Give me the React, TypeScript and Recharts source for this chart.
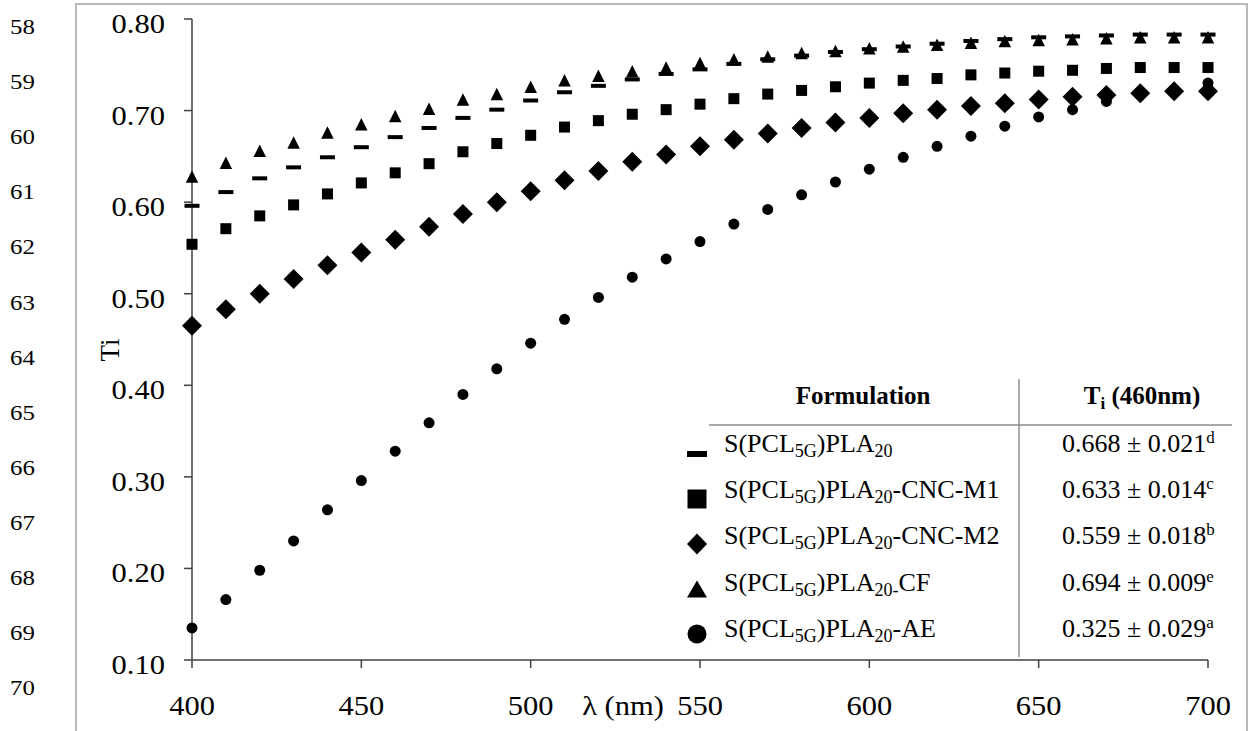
import { Scatter, ScatterChart, XAxis, YAxis } from "recharts";

const wavelengths = [
  400, 410, 420, 430, 440, 450, 460, 470, 480, 490, 500, 510, 520, 530, 540, 550,
  560, 570, 580, 590, 600, 610, 620, 630, 640, 650, 660, 670, 680, 690, 700,
];

// S(PCL5G)PLA20
const tiPla20 = [
  0.596, 0.611, 0.626, 0.638, 0.649, 0.66, 0.671, 0.681, 0.692, 0.701, 0.711, 0.72,
  0.727, 0.734, 0.74, 0.745, 0.751, 0.756, 0.76, 0.764, 0.767, 0.77, 0.773, 0.776,
  0.778, 0.78, 0.781, 0.782, 0.783, 0.783, 0.783,
];
// -CNC-M1
const tiCncM1 = [
  0.554, 0.571, 0.585, 0.597, 0.609, 0.621, 0.632, 0.642, 0.655, 0.664, 0.673, 0.682,
  0.689, 0.696, 0.701, 0.707, 0.713, 0.718, 0.722, 0.726, 0.73, 0.733, 0.735, 0.739,
  0.741, 0.743, 0.744, 0.746, 0.747, 0.747, 0.747,
];
// -CNC-M2
const tiCncM2 = [
  0.465, 0.483, 0.5, 0.516, 0.531, 0.545, 0.559, 0.573, 0.587, 0.6, 0.612, 0.624,
  0.634, 0.644, 0.652, 0.661, 0.668, 0.675, 0.681, 0.687, 0.692, 0.697, 0.701, 0.705,
  0.708, 0.712, 0.715, 0.717, 0.719, 0.721, 0.721,
];
// -CF
const tiCf = [
  0.628, 0.643, 0.656, 0.665, 0.676, 0.685, 0.694, 0.702, 0.712, 0.718, 0.726, 0.733,
  0.738, 0.743, 0.747, 0.752, 0.756, 0.759, 0.763, 0.765, 0.768, 0.77, 0.772, 0.774,
  0.776, 0.777, 0.778, 0.779, 0.78, 0.78, 0.78,
];
// -AE
const tiAe = [
  0.135, 0.166, 0.198, 0.23, 0.264, 0.296, 0.328, 0.359, 0.39, 0.418, 0.446, 0.472,
  0.496, 0.518, 0.538, 0.557, 0.576, 0.592, 0.608, 0.622, 0.636, 0.649, 0.661, 0.672,
  0.683, 0.693, 0.701, 0.71, 0.717, 0.723, 0.73,
];

const xTicks = [400, 450, 500, 550, 600, 650, 700];
const yTicks = [0.1, 0.2, 0.3, 0.4, 0.5, 0.6, 0.7, 0.8];
const lineNumbers = [58, 59, 60, 61, 62, 63, 64, 65, 66, 67, 68, 69, 70];

const tiMeans = ["0.668", "0.633", "0.559", "0.694", "0.325"];
const tiErrors = ["0.021", "0.014", "0.018", "0.009", "0.029"];
const tiGroups = ["d", "c", "b", "e", "a"];

const FONT = '"Liberation Serif", "Times New Roman", serif';
const AXIS = "#404040";

type Kind = "dash" | "square" | "diamond" | "triangle" | "circle";
type Size = { w: number; h: number };

const plotSizes: Record<Kind, Size> = {
  dash: { w: 15, h: 4 },
  square: { w: 11, h: 11 },
  diamond: { w: 20, h: 20 },
  triangle: { w: 12.5, h: 12.5 },
  circle: { w: 11, h: 11 },
};

const legendSizes: Record<Kind, Size> = {
  dash: { w: 20, h: 6 },
  square: { w: 19, h: 19 },
  diamond: { w: 20, h: 21 },
  triangle: { w: 20, h: 17 },
  circle: { w: 19, h: 19 },
};

const series: { kind: Kind; values: number[]; subTail: string; tail: string }[] = [
  { kind: "dash", values: tiPla20, subTail: "20", tail: "" },
  { kind: "square", values: tiCncM1, subTail: "20", tail: "-CNC-M1" },
  { kind: "diamond", values: tiCncM2, subTail: "20", tail: "-CNC-M2" },
  { kind: "triangle", values: tiCf, subTail: "20-", tail: "CF" },
  { kind: "circle", values: tiAe, subTail: "20", tail: "-AE" },
];

const toPoints = (vals: number[]) => wavelengths.map((x, i) => ({ x, y: vals[i] }));

function Marker({ kind, cx, cy, size }: { kind: Kind; cx: number; cy: number; size: Size }) {
  const { w, h } = size;
  if (kind === "dash" || kind === "square")
    return <rect x={cx - w / 2} y={cy - h / 2} width={w} height={h} fill="#000" />;
  if (kind === "diamond")
    return (
      <polygon
        points={`${cx},${cy - h / 2} ${cx + w / 2},${cy} ${cx},${cy + h / 2} ${cx - w / 2},${cy}`}
        fill="#000"
      />
    );
  if (kind === "triangle")
    return (
      <polygon
        points={`${cx},${cy - h / 2} ${cx + w / 2},${cy + h / 2} ${cx - w / 2},${cy + h / 2}`}
        fill="#000"
      />
    );
  return <ellipse cx={cx} cy={cy} rx={w / 2} ry={h / 2} fill="#000" />;
}

function XTick(props: any) {
  const { x, y, payload } = props;
  return (
    <g transform={`translate(${x},${y + 45})`}>
      <text transform="scale(1.13,1)" textAnchor="middle" fontSize={27} fontFamily={FONT} fill="#000">
        {payload.value}
      </text>
    </g>
  );
}

function YTick(props: any) {
  const { x, y, payload } = props;
  return (
    <g transform={`translate(${x - 17},${y + 14})`}>
      <text transform="scale(1.13,1)" textAnchor="end" fontSize={27} fontFamily={FONT} fill="#000">
        {Number(payload.value).toFixed(2)}
      </text>
    </g>
  );
}

function XLabel(props: any) {
  const vb = props.viewBox ?? { x: 192, y: 660 };
  return (
    <g transform={`translate(${vb.x + 431},${vb.y + 55})`}>
      <text transform="scale(1.13,1)" textAnchor="middle" fontSize={27} fontFamily={FONT} fill="#000">
        λ (nm)
      </text>
    </g>
  );
}

function YLabel(props: any) {
  const vb = props.viewBox ?? { x: 0, y: 19 };
  return (
    <text
      transform={`translate(${vb.x + 119},${vb.y + 331}) rotate(-90)`}
      textAnchor="middle"
      fontSize={27}
      fontFamily={FONT}
      fill="#000"
    >
      Ti
    </text>
  );
}

export default function App() {
  return (
    <div style={{ position: "absolute", left: 0, top: 0, width: 1248, height: 731, background: "#fff" }}>
      <ScatterChart width={1248} height={731} margin={{ top: 19, right: 40, bottom: 0, left: 0 }}>
        <XAxis
          type="number"
          dataKey="x"
          domain={[400, 700]}
          ticks={xTicks}
          interval={0}
          height={71}
          tickSize={8}
          tickMargin={2}
          axisLine={{ stroke: AXIS, strokeWidth: 1.5 }}
          tickLine={{ stroke: AXIS, strokeWidth: 1.5 }}
          tick={<XTick />}
          label={XLabel}
        />
        <YAxis
          type="number"
          dataKey="y"
          domain={[0.1, 0.8]}
          ticks={yTicks}
          interval={0}
          width={192}
          tickSize={8}
          tickMargin={2}
          axisLine={{ stroke: AXIS, strokeWidth: 1.5 }}
          tickLine={{ stroke: AXIS, strokeWidth: 1.5 }}
          tick={<YTick />}
          label={YLabel}
        />
        {series.map((s) => (
          <Scatter
            key={s.kind}
            data={toPoints(s.values)}
            isAnimationActive={false}
            shape={(p: any) => <Marker kind={s.kind} cx={p.cx} cy={p.cy} size={plotSizes[s.kind]} />}
          />
        ))}
      </ScatterChart>

      <svg
        width={1248}
        height={731}
        style={{ position: "absolute", left: 0, top: 0, pointerEvents: "none" }}
        fontFamily={FONT}
      >
        {/* page frame */}
        <path d="M76,731 L76,4 L1247,4 L1247,731" fill="none" stroke="#b8b8b8" strokeWidth={2} />

        {/* manuscript line numbers */}
        {lineNumbers.map((n, k) => (
          <g key={n} transform={`translate(10,${34 + 55.1 * k})`}>
            <text transform="scale(1.13,1)" fontSize={22} fill="#000">
              {n}
            </text>
          </g>
        ))}

        {/* legend table */}
        <line x1={1019} y1={379} x2={1019} y2={657} stroke="#8c8c8c" strokeWidth={1.5} />
        <line x1={709} y1={425} x2={1232} y2={425} stroke="#8c8c8c" strokeWidth={1.5} />
        <text x={863} y={404} textAnchor="middle" fontSize={25} fontWeight="bold" fill="#000">
          Formulation
        </text>
        <text x={1142} y={404} textAnchor="middle" fontSize={25} fontWeight="bold" fill="#000">
          T
          <tspan fontSize={17} dy={5}>
            i
          </tspan>
          <tspan dy={-5}> (460nm)</tspan>
        </text>

        {series.map((s, i) => {
          const base = 452 + 46.2 * i;
          return (
            <g key={s.kind}>
              <Marker kind={s.kind} cx={697} cy={454 + 45 * i} size={legendSizes[s.kind]} />
              <text x={724} y={base} fontSize={26} fill="#000">
                S(PCL
                <tspan fontSize={18} dy={5}>
                  5G
                </tspan>
                <tspan dy={-5}>)PLA</tspan>
                <tspan fontSize={18} dy={5}>
                  {s.subTail}
                </tspan>
                <tspan dy={-5}>{s.tail}</tspan>
              </text>
              <text x={1062} y={base} fontSize={26} fill="#000">
                {tiMeans[i]} ± {tiErrors[i]}
                <tspan fontSize={17} dy={-9}>
                  {tiGroups[i]}
                </tspan>
              </text>
            </g>
          );
        })}
      </svg>
    </div>
  );
}
